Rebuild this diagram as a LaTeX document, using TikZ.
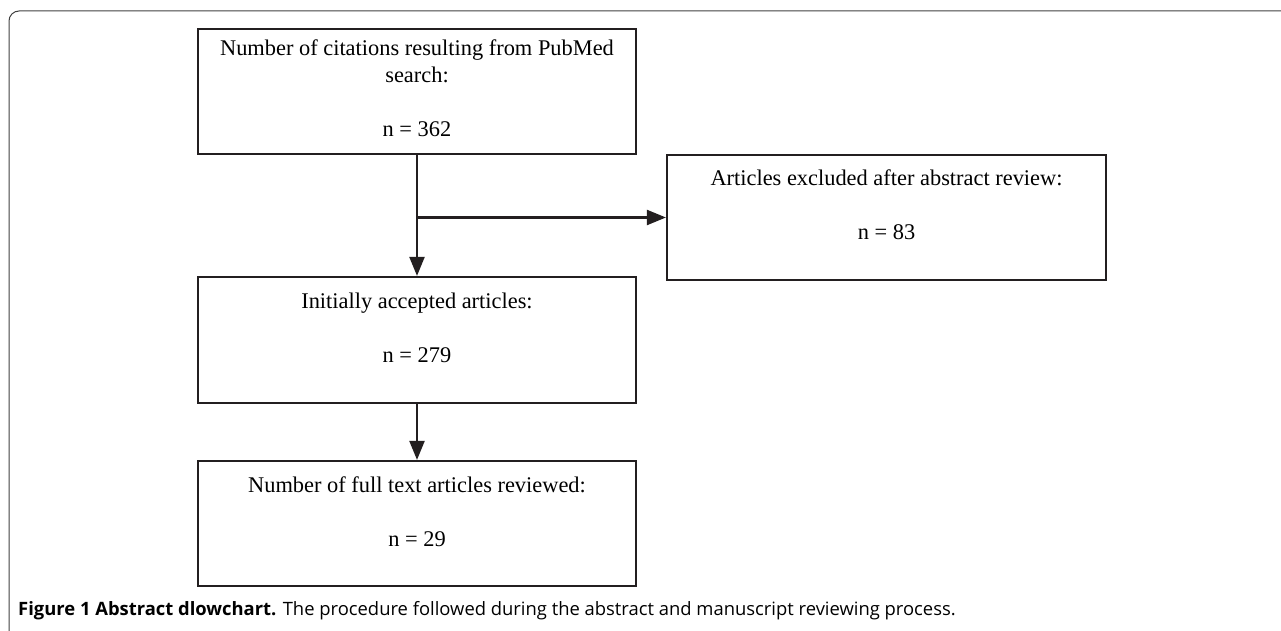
\documentclass[tikz,border=0pt]{standalone}
\usepackage{fontspec}
\setmainfont{Liberation Serif}
\newfontfamily\captionfont{Open Sans}
\usetikzlibrary{arrows.meta,positioning,calc}
\definecolor{inkblack}{HTML}{231F20}

\begin{document}
\begin{tikzpicture}[x=1pt, y=1pt,
    box/.style={draw=inkblack, line width=2.2pt, minimum width=438pt, minimum height=125pt,
        inner sep=0pt, text width=420pt, align=flush center, text height=15pt, text depth=87pt,
        font=\fontsize{22.4}{27}\selectfont},
    shortbox/.style={box, text depth=78pt},
    arr/.style={draw=inkblack, line width=2.2pt, -{Triangle[length=19pt, width=15pt]}}]
    \useasboundingbox (0,0) rectangle (1281,630);

    % outer frame
    \draw[black!75, line width=1pt, rounded corners=10pt] (9,-10) -- (9,619) -- (1300,619);

    % boxes
    \node[box] (search) at (417,538.5) {Number of citations resulting from PubMed search:\\[27pt]n = 362};
    \node[shortbox, minimum width=439pt] (excluded) at (886.5,412.5) {Articles excluded after abstract review:\\[27pt]n = 83};
    \node[shortbox, minimum height=126pt] (accepted) at (417,290) {Initially accepted articles:\\[27pt]n = 279};
    \node[shortbox] (reviewed) at (417,106.5) {Number of full text articles reviewed:\\[27pt]n = 29};

    % arrows
    \coordinate (split) at (search.south |- excluded.west);
    \draw[arr] (search.south) -- (accepted.north);
    \draw[arr] (split) -- (excluded.west);
    \draw[arr] (accepted.south) -- (reviewed.north);

    % caption
    \node[anchor=base west, inner sep=0pt] (caption) at (18,15)
        {\captionfont\fontsize{18.4}{21}\selectfont\textbf{Figure 1 Abstract dlowchart.} The procedure followed during the abstract and manuscript reviewing process.};
\end{tikzpicture}
\end{document}
